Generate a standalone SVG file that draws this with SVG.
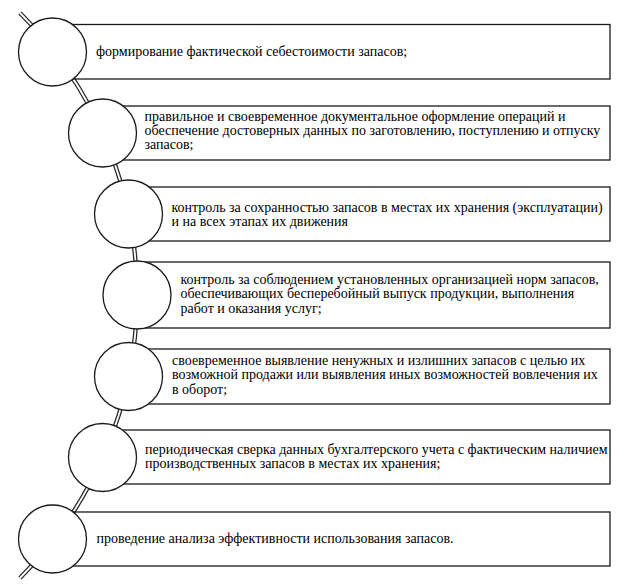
<svg xmlns="http://www.w3.org/2000/svg" width="624" height="587" viewBox="0 0 624 587">
<style>
.box{fill:none;stroke:#1a1a1a;stroke-width:1.3}
.cir{fill:#fff;stroke:#1a1a1a;stroke-width:1.3}
.t{font-family:"Liberation Serif","Times New Roman",serif;font-size:14px;fill:#000}
.lo{fill:none;stroke:#2a2a2a;stroke-width:4.4}
.li{fill:none;stroke:#fff;stroke-width:1.8}
</style>
<rect width="624" height="587" fill="#fff"/>
<g id="connectors">
<path class="lo" d="M20 13 A399.5 399.5 0 0 1 20 578"/>
<path class="li" d="M20 13 A399.5 399.5 0 0 1 20 578"/>
</g>
<g id="n1">
<rect class="box" x="52.5" y="24.5" width="557.5" height="54.5"/>
<circle class="cir" cx="52.5" cy="52" r="34"/>
<text class="t" x="96" y="56">формирование фактической себестоимости запасов;</text>
</g>
<g id="n2">
<rect class="box" x="102.5" y="106" width="507.5" height="54"/>
<circle class="cir" cx="102.5" cy="133" r="34"/>
<text class="t"><tspan x="144.5" y="121">правильное и своевременное документальное оформление операций и</tspan><tspan x="144.5" y="135">обеспечение достоверных данных по заготовлению, поступлению и отпуску</tspan><tspan x="144.5" y="149">запасов;</tspan></text>
</g>
<g id="n3">
<rect class="box" x="128.5" y="187" width="481.5" height="54"/>
<circle class="cir" cx="128.5" cy="214" r="34"/>
<text class="t"><tspan x="171.5" y="211.5">контроль за сохранностью запасов в местах их хранения (эксплуатации)</tspan><tspan x="171.5" y="225.5">и на всех этапах их движения</tspan></text>
</g>
<g id="n4">
<rect class="box" x="137" y="262" width="473" height="66"/>
<circle class="cir" cx="137" cy="295" r="34"/>
<text class="t"><tspan x="180.5" y="283.5">контроль за соблюдением установленных организацией норм запасов,</tspan><tspan x="180.5" y="298">обеспечивающих бесперебойный выпуск продукции, выполнения</tspan><tspan x="180.5" y="312.5">работ и оказания услуг;</tspan></text>
</g>
<g id="n5">
<rect class="box" x="128.5" y="349" width="481.5" height="55"/>
<circle class="cir" cx="128.5" cy="376.5" r="34"/>
<text class="t"><tspan x="172" y="364.5">своевременное выявление ненужных и излишних запасов с целью их</tspan><tspan x="172" y="379">возможной продажи или выявления иных возможностей вовлечения их</tspan><tspan x="172" y="393.5">в оборот;</tspan></text>
</g>
<g id="n6">
<rect class="box" x="102.5" y="430" width="507.5" height="54"/>
<circle class="cir" cx="102.5" cy="457.5" r="34"/>
<text class="t"><tspan x="145" y="453.5">периодическая сверка данных бухгалтерского учета с фактическим наличием</tspan><tspan x="145" y="467.5">производственных запасов в местах их хранения;</tspan></text>
</g>
<g id="n7">
<rect class="box" x="52.5" y="512" width="557.5" height="54"/>
<circle class="cir" cx="52.5" cy="539" r="34"/>
<text class="t" x="96.5" y="543.3">проведение анализа эффективности использования запасов.</text>
</g>
</svg>
